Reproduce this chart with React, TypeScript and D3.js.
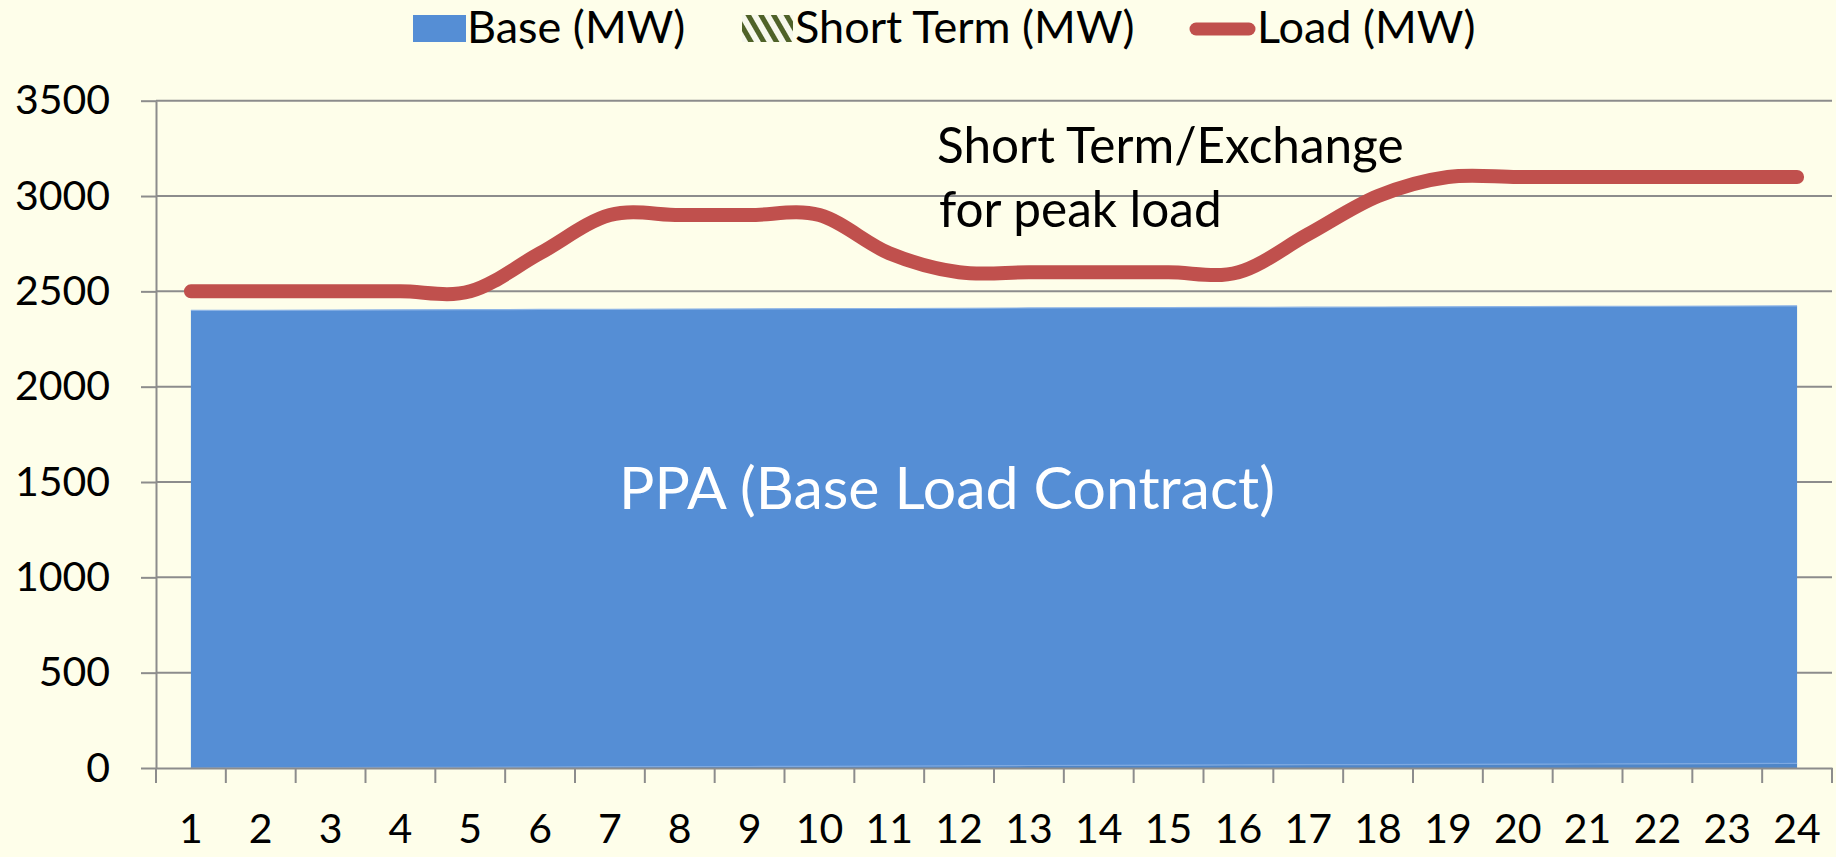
import React, { useRef, useEffect } from 'react';
import * as d3 from 'd3';

const hours = [1, 2, 3, 4, 5, 6, 7, 8, 9, 10, 11, 12, 13, 14, 15, 16, 17, 18, 19, 20, 21, 22, 23, 24];
// bottom sliver of the base block (slowly rising)
const baseEdgeMW = [0, 1, 2, 3, 4, 5, 6, 7, 8, 9, 10, 11, 13, 14, 15, 16, 17, 18, 19, 20, 21, 22, 23, 24];
const baseMW = [2400, 2400, 2400, 2400, 2400, 2400, 2400, 2400, 2400, 2400, 2400, 2400, 2400, 2400, 2400, 2400, 2400, 2400, 2400, 2400, 2400, 2400, 2400, 2400];
const shortTermMW = [0, 0, 0, 0, 0, 0, 0, 0, 0, 0, 0, 0, 0, 0, 0, 0, 0, 0, 0, 0, 0, 0, 0, 0];
const loadMW = [2500, 2500, 2500, 2500, 2500, 2700, 2900, 2900, 2900, 2900, 2700, 2600, 2600, 2600, 2600, 2600, 2800, 3000, 3100, 3100, 3100, 3100, 3100, 3100];
const yTicks = [0, 500, 1000, 1500, 2000, 2500, 3000, 3500];
const legendLabels = ['Base (MW)', 'Short Term (MW)', 'Load (MW)'];

const W = 1836;
const H = 857;
const FONT = 'Lato, "Open Sans", sans-serif';

const App: React.FC = () => {
  const svgRef = useRef<SVGSVGElement | null>(null);

  useEffect(() => {
    if (!svgRef.current) return;
    const svg = d3.select(svgRef.current);
    svg.selectAll('*').remove();

    const left = 156, right = 1832, top = 100.7, bottom = 768;

    const x = d3.scaleBand<number>().domain(hours).range([left, right]);
    const cx = (h: number) => (x(h) as number) + x.bandwidth() / 2;
    const y = d3.scaleLinear().domain([0, 3500]).range([bottom, top]);

    const defs = svg.append('defs');
    const pat = defs.append('pattern')
      .attr('id', 'stripes')
      .attr('patternUnits', 'userSpaceOnUse')
      .attr('width', 11).attr('height', 11)
      .attr('patternTransform', 'rotate(-30)');
    pat.append('rect').attr('width', 11).attr('height', 11).attr('fill', '#f7f8ec');
    pat.append('rect').attr('width', 5).attr('height', 11).attr('fill', '#4f6228');

    svg.append('rect').attr('width', W).attr('height', H).attr('fill', '#fefeea');

    // gridlines
    svg.append('g').selectAll('line')
      .data(yTicks.filter(d => d > 0))
      .enter().append('line')
      .attr('x1', left).attr('x2', right)
      .attr('y1', d => y(d)).attr('y2', d => y(d))
      .attr('stroke', '#8c8c8c').attr('stroke-width', 2);

    // stacked areas
    const rows = hours.map((h, i) => ({ hour: h, edge: baseEdgeMW[i], base: baseMW[i], short: shortTermMW[i] }));
    const stacked = d3.stack<any>().keys(['edge', 'base', 'short'])(rows);
    const area = d3.area<any>()
      .x(d => cx(d.data.hour))
      .y0(d => y(d[0]))
      .y1(d => y(d[1]));
    const fills = ['#4f86c8', '#558ed5', 'url(#stripes)'];
    stacked.forEach((s, i) => {
      svg.append('path').datum(s).attr('d', area).attr('fill', fills[i]);
    });
    // light top edges of blue blocks
    const edgeLine = d3.line<any>().x(d => cx(d.data.hour)).y(d => y(d[1]));
    svg.append('path').datum(stacked[0]).attr('d', edgeLine)
      .attr('fill', 'none').attr('stroke', '#7ea9e1').attr('stroke-width', 1.2);
    svg.append('path').datum(stacked[1]).attr('d', edgeLine)
      .attr('fill', 'none').attr('stroke', '#8db4e6').attr('stroke-width', 1.2);

    // load line
    const line = d3.line<number>()
      .x((d, i) => cx(hours[i]))
      .y(d => y(d))
      .curve(d3.curveCardinal.tension(0));
    svg.append('path').datum(loadMW).attr('d', line)
      .attr('fill', 'none').attr('stroke', '#c0504d')
      .attr('stroke-width', 14).attr('stroke-linecap', 'round').attr('stroke-linejoin', 'round');

    // axes
    const yAxis = d3.axisLeft(y).tickValues(yTicks).tickFormat(d3.format('d')).tickSize(15).tickPadding(31).tickSizeOuter(0);
    const gY = svg.append('g').attr('transform', `translate(${left},0)`).call(yAxis);
    gY.select('.domain').attr('stroke', '#8c8c8c').attr('stroke-width', 2);
    gY.selectAll('.tick line').attr('stroke', '#8c8c8c').attr('stroke-width', 2);
    gY.selectAll('.tick text').attr('font-family', FONT).attr('font-size', 41).attr('fill', '#000');

    const xAxis = d3.axisBottom(x).tickSize(0).tickPadding(46);
    const gX = svg.append('g').attr('transform', `translate(0,${bottom})`).call(xAxis);
    gX.select('.domain').attr('stroke', '#8c8c8c').attr('stroke-width', 2);
    gX.selectAll('.tick text').attr('font-family', FONT).attr('font-size', 41).attr('fill', '#000');
    svg.append('g').selectAll('line')
      .data([...hours.map(h => x(h) as number), right])
      .enter().append('line')
      .attr('x1', d => d).attr('x2', d => d)
      .attr('y1', bottom).attr('y2', bottom + 15)
      .attr('stroke', '#8c8c8c').attr('stroke-width', 2);

    // annotations
    svg.append('text').attr('x', 947).attr('y', 509).attr('text-anchor', 'middle')
      .attr('font-family', FONT).attr('font-size', 59).attr('fill', '#ffffff')
      .text('PPA (Base Load Contract)');
    const note = svg.append('text').attr('font-family', FONT).attr('font-size', 49.5).attr('fill', '#000');
    note.append('tspan').attr('x', 937).attr('y', 163).text('Short Term/Exchange');
    note.append('tspan').attr('x', 939).attr('y', 227).text('for peak load');

    // legend
    const lg = svg.append('g').attr('font-family', FONT).attr('font-size', 45).attr('fill', '#000');
    lg.append('rect').attr('x', 413).attr('y', 15).attr('width', 53).attr('height', 27).attr('fill', '#558ed5');
    lg.append('text').attr('x', 467).attr('y', 43).text(legendLabels[0]);
    lg.append('rect').attr('x', 742).attr('y', 15).attr('width', 51).attr('height', 27).attr('fill', 'url(#stripes)');
    lg.append('text').attr('x', 795).attr('y', 43).text(legendLabels[1]);
    lg.append('line').attr('x1', 1196).attr('x2', 1249).attr('y1', 29).attr('y2', 29)
      .attr('stroke', '#c0504d').attr('stroke-width', 13).attr('stroke-linecap', 'round');
    lg.append('text').attr('x', 1257).attr('y', 43).text(legendLabels[2]);
  }, []);

  return (
    <svg ref={svgRef} width={W} height={H} style={{ position: 'absolute', left: 0, top: 0, display: 'block' }} />
  );
};

export default App;
